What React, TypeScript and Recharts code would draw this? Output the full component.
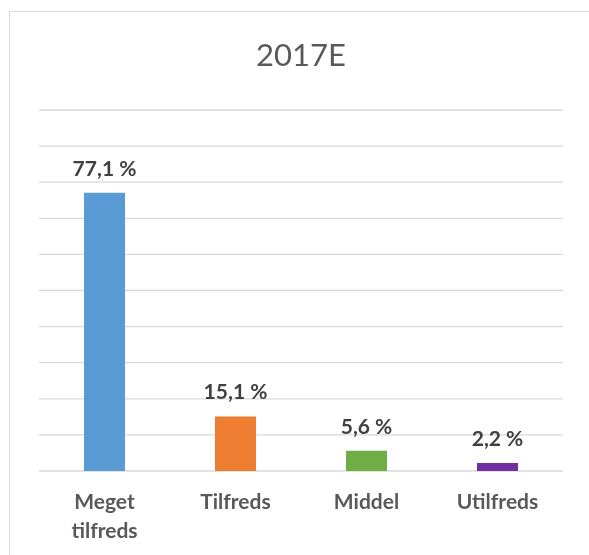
import React from 'react';
import { BarChart, Bar, XAxis, YAxis, CartesianGrid, Cell, LabelList } from 'recharts';

const categories = ['Meget tilfreds', 'Tilfreds', 'Middel', 'Utilfreds'];
const shares = [77.1, 15.1, 5.6, 2.2];
const barColors = ['#5B9BD5', '#ED7D31', '#70AD47', '#7030A0'];
const yTicks = [0, 10, 20, 30, 40, 50, 60, 70, 80, 90, 100];

const data = categories.map((name, i) => ({ name, value: shares[i] }));

const FONT = 'Lato, "Open Sans", sans-serif';

const CategoryTick = (props: any) => {
  const { x, y, payload } = props;
  const words = String(payload.value).split(' ');
  return (
    <text
      x={x}
      y={y + 38}
      textAnchor="middle"
      fill="#595959"
      fontFamily={FONT}
      fontWeight={700}
      fontSize={21}
    >
      {words.map((w, i) => (
        <tspan key={w} x={x} dy={i === 0 ? 0 : 29}>
          {w}
        </tspan>
      ))}
    </text>
  );
};

// value label above each bar, kept on one line
const ShareLabel = (props: any) => {
  const { x, y, width, value } = props;
  return (
    <text
      x={Number(x) + Number(width) / 2}
      y={Number(y) - 17}
      textAnchor="middle"
      fill="#404040"
      fontFamily={FONT}
      fontWeight={700}
      fontSize={21}
    >
      {`${String(value).replace('.', ',')} %`}
    </text>
  );
};

export default function App() {
  return (
    <div>
      <div
        style={{
          position: 'fixed',
          left: 9,
          top: 11,
          width: 700,
          height: 700,
          borderLeft: '1px solid #D9D9D9',
          borderTop: '1px solid #D9D9D9',
          background: '#fff',
        }}
      />
      <div
        style={{
          position: 'fixed',
          left: 0,
          top: 36,
          width: 602,
          textAlign: 'center',
          fontFamily: FONT,
          fontSize: 31,
          lineHeight: 1.2,
          color: '#595959',
        }}
      >
        2017E
      </div>
      <div style={{ position: 'fixed', left: 0, top: 0 }}>
        <BarChart
          width={589}
          height={555}
          data={data}
          margin={{ top: 110, right: 26, bottom: 54, left: 39 }}
        >
          <CartesianGrid vertical={false} stroke="#D9D9D9" strokeWidth={1.3} />
          <YAxis hide domain={[0, 100]} ticks={yTicks} />
          <XAxis
            dataKey="name"
            height={30}
            axisLine={false}
            tickLine={false}
            tickSize={0}
            tickMargin={0}
            interval={0}
            tick={<CategoryTick />}
          />
          <Bar dataKey="value" barSize={41} isAnimationActive={false}>
            {data.map((d, i) => (
              <Cell key={d.name} fill={barColors[i]} />
            ))}
            <LabelList dataKey="value" content={<ShareLabel />} />
          </Bar>
        </BarChart>
      </div>
    </div>
  );
}
